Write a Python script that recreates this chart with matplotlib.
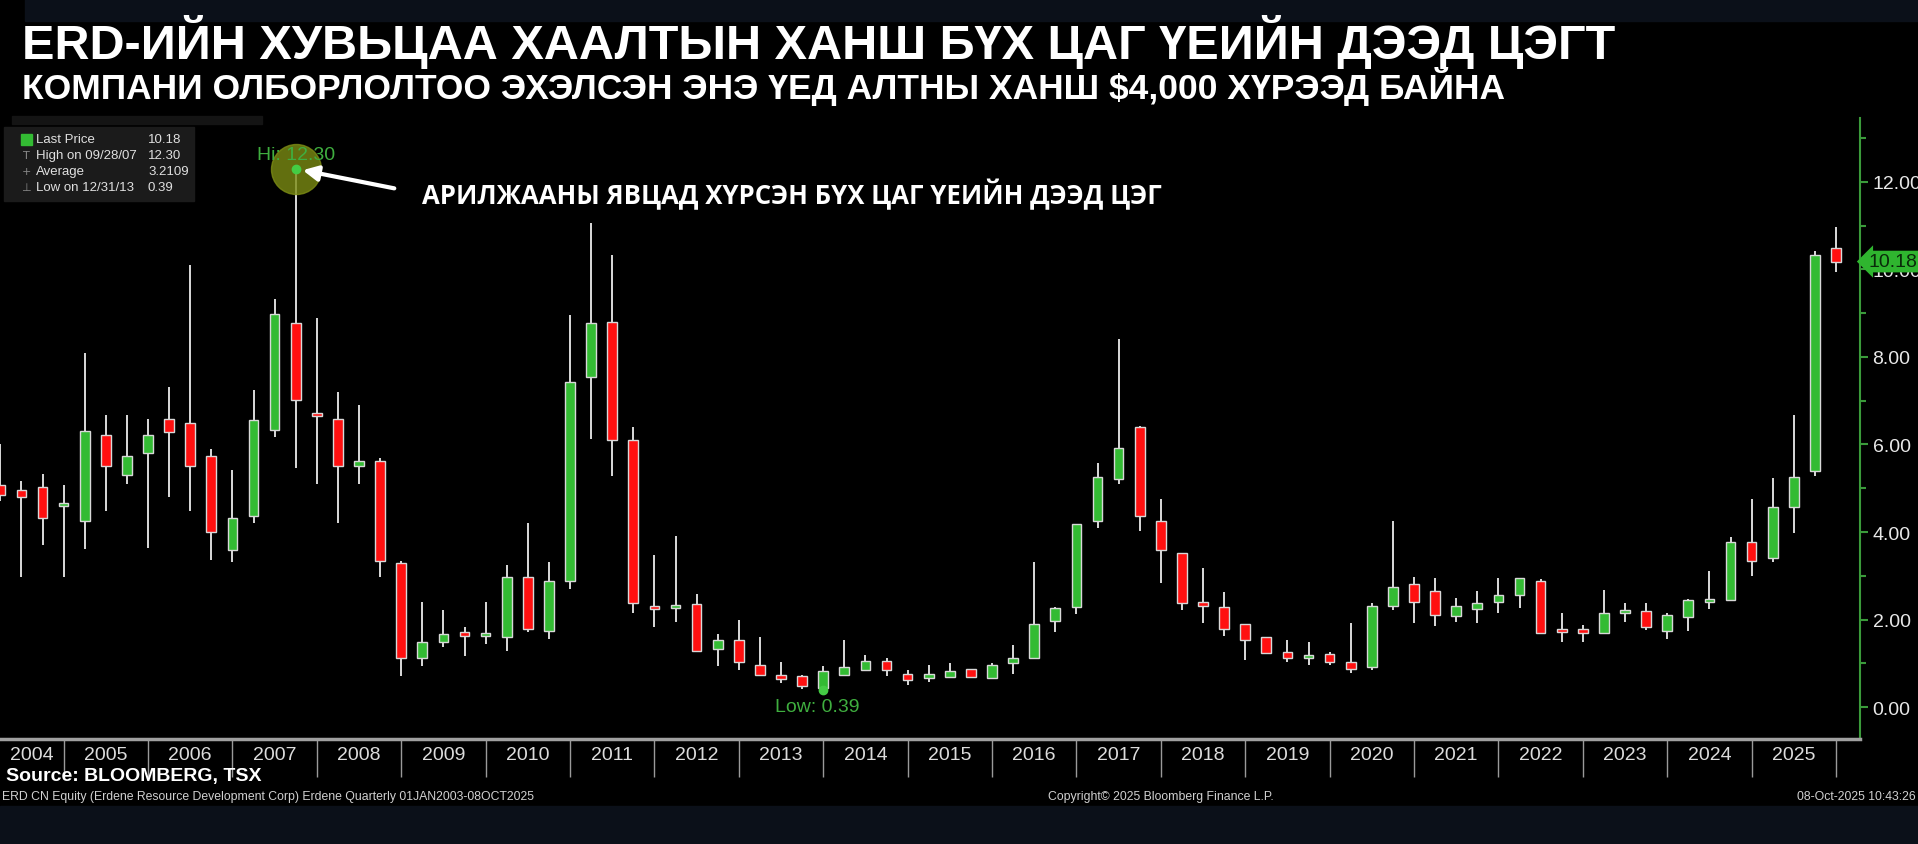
import matplotlib
matplotlib.use("Agg")
import matplotlib.pyplot as plt
from matplotlib import font_manager
from matplotlib.patches import Rectangle
import numpy as np

# Quarterly OHLC, ERD CN Equity, Q1 2004 .. Q4 2025
years = list(range(2004, 2026))
opens = [
    5.08, 4.96, 5.02, 4.60,  4.24, 6.22, 5.31, 5.80,  6.59, 6.48, 5.74, 3.59,
    4.36, 6.34, 8.77, 6.71,  6.59, 5.50, 5.62, 3.29,  1.13, 1.49, 1.72, 1.63,
    1.60, 2.97, 1.74, 2.89,  7.54, 8.80, 6.11, 2.30,  2.27, 2.36, 1.32, 1.54,
    0.96, 0.74, 0.70, 0.44,  0.73, 0.84, 1.05, 0.75,  0.67, 0.68, 0.87, 0.67,
    1.01, 1.12, 1.97, 2.28,  4.24, 5.21, 6.41, 4.26,  3.52, 2.41, 2.28, 1.89,
    1.60, 1.26, 1.12, 1.21,  1.03, 0.91, 2.30, 2.82,  2.66, 2.08, 2.24, 2.40,
    2.57, 2.89, 1.79, 1.79,  1.70, 2.16, 2.19, 1.74,  2.06, 2.41, 2.45, 3.77,
    3.41, 4.56, 5.40, 10.50,
]
highs = [
    6.02, 5.16, 5.33, 5.08,  8.10, 6.67, 6.67, 6.59,  7.32, 10.09, 5.90, 5.41,
    7.25, 9.32, 12.30, 8.88,  7.20, 6.90, 5.69, 3.34,  2.40, 2.21, 1.84, 2.40,
    3.24, 4.20, 3.31, 8.95,  11.05, 10.33, 6.41, 3.47,  3.90, 2.58, 1.68, 2.00,
    1.61, 1.03, 0.74, 0.93,  1.54, 1.19, 1.12, 0.84,  0.95, 1.01, 0.88, 1.01,
    1.42, 3.31, 2.28, 4.19,  5.57, 8.41, 6.42, 4.76,  3.53, 3.17, 2.64, 1.90,
    1.61, 1.54, 1.49, 1.26,  1.91, 2.38, 4.26, 2.98,  2.96, 2.49, 2.66, 2.96,
    2.95, 2.93, 2.14, 1.88,  2.68, 2.38, 2.37, 2.16,  2.48, 3.12, 3.89, 4.76,
    5.24, 6.68, 10.43, 10.96,
]
lows = [
    4.71, 2.98, 3.71, 2.98,  3.61, 4.48, 5.10, 3.64,  4.79, 4.48, 3.36, 3.31,
    4.20, 6.18, 5.46, 5.10,  4.20, 5.10, 2.97, 0.70,  0.93, 1.37, 1.17, 1.45,
    1.28, 1.71, 1.56, 2.69,  6.13, 5.27, 2.16, 1.82,  1.94, 1.28, 0.93, 0.84,
    0.72, 0.56, 0.42, 0.39,  0.70, 0.83, 0.70, 0.51,  0.58, 0.67, 0.67, 0.66,
    0.75, 1.11, 1.71, 2.12,  4.08, 5.10, 4.03, 2.83,  2.22, 1.91, 1.63, 1.07,
    1.23, 1.03, 0.95, 0.95,  0.77, 0.84, 2.21, 1.93,  1.85, 1.94, 1.93, 2.16,
    2.27, 1.69, 1.49, 1.49,  1.69, 1.94, 1.75, 1.55,  1.73, 2.23, 2.42, 2.99,
    3.31, 3.97, 5.28, 9.95,
]
closes = [
    4.85, 4.79, 4.31, 4.66,  6.30, 5.50, 5.74, 6.22,  6.28, 5.50, 3.99, 4.31,
    6.55, 8.98, 7.01, 6.66,  5.50, 5.62, 3.34, 1.12,  1.49, 1.68, 1.63, 1.66,
    2.98, 1.79, 2.87, 7.43,  8.77, 6.11, 2.38, 2.24,  2.29, 1.29, 1.54, 1.03,
    0.73, 0.65, 0.49, 0.82,  0.91, 1.05, 0.84, 0.62,  0.75, 0.82, 0.68, 0.95,
    1.12, 1.89, 2.27, 4.18,  5.25, 5.92, 4.36, 3.59,  2.38, 2.30, 1.79, 1.54,
    1.24, 1.12, 1.14, 1.03,  0.87, 2.30, 2.75, 2.40,  2.10, 2.31, 2.38, 2.55,
    2.94, 1.70, 1.72, 1.70,  2.14, 2.18, 1.82, 2.11,  2.45, 2.43, 3.77, 3.34,
    4.56, 5.26, 10.34, 10.18,
]
last_price = 10.18
hi_value, hi_date = 12.30, "09/28/07"
lo_value, lo_date = 0.39, "12/31/13"
average = 3.2109

title = "ERD-ИЙН ХУВЬЦАА ХААЛТЫН ХАНШ БҮХ ЦАГ ҮЕИЙН ДЭЭД ЦЭГТ"
subtitle = "КОМПАНИ ОЛБОРЛОЛТОО ЭХЭЛСЭН ЭНЭ ҮЕД АЛТНЫ ХАНШ $4,000 ХҮРЭЭД БАЙНА"
note = "АРИЛЖААНЫ ЯВЦАД ХҮРСЭН БҮХ ЦАГ ҮЕИЙН ДЭЭД ЦЭГ"

GREEN = "#33bb33"
RED = "#ff1010"
AXGREEN = "#3a9a3a"
NAVY = "#0b1019"

names = {f.name for f in font_manager.fontManager.ttflist}
narrow = "Liberation Sans Narrow" if "Liberation Sans Narrow" in names else "Liberation Sans"
plt.rcParams["font.family"] = ["Liberation Sans", "DejaVu Sans"]

# quarter-end positions (Q4 sits on the year boundary, like Bloomberg)
x = np.array([y + q / 4 for y in years for q in (1, 2, 3, 4)])
o = np.array(opens); h = np.array(highs); l = np.array(lows); c = np.array(closes)

W, H = 1918, 845
fig = plt.figure(figsize=(W / 100, H / 100), dpi=100, facecolor="black")
fx = lambda px: px / W
fy = lambda py: 1 - py / H

ax = fig.add_axes([0, fy(740), fx(1860), (740 - 119) / H])
ax.set_facecolor("black")

up = c >= o
ax.vlines(x, l, h, color="white", lw=1.2, zorder=2)
ax.bar(x, np.maximum(np.abs(c - o), 0.06), width=0.115, bottom=np.minimum(o, c),
       color=np.where(up, GREEN, RED), edgecolor="#d8d8d8", linewidth=1.0, zorder=3)

ax.set_xlim(2004.246, 2026.284)
ax.set_ylim(-0.73, 13.46)

# y axis on the right
ax.yaxis.tick_right()
ax.set_yticks(np.arange(0, 13, 2))
ax.set_yticklabels([f"{v:.2f}" for v in np.arange(0, 13, 2)], fontsize=14)
ax.set_yticks(np.arange(1, 14, 2), minor=True)
ax.tick_params(axis="y", which="both", colors=AXGREEN, labelcolor="#e8e8e8",
               direction="out", length=6, width=1.5, pad=3)
ax.tick_params(axis="y", which="minor", length=4)

# x axis: year separators + year labels
ax.set_xticks(np.arange(2005, 2027))
ax.set_xticklabels([])
centers = [y + 0.5 for y in years]
centers[0] = 2004.62
ax.set_xticks(centers, minor=True)
ax.set_xticklabels([str(y) for y in years], minor=True, fontsize=14,
                   family=narrow, color="#dcdcdc")
ax.tick_params(axis="x", which="major", colors="#9a9a9a", length=27, width=1,
               direction="out")
ax.tick_params(axis="x", which="minor", length=0, pad=5)

for s in ("left", "top"):
    ax.spines[s].set_visible(False)
ax.spines["right"].set_color(AXGREEN)
ax.spines["right"].set_linewidth(1.5)
ax.spines["bottom"].set_color("#a0a0a0")
ax.spines["bottom"].set_linewidth(2.5)

# last price tag
ax.annotate(f"{last_price:.2f}", xy=(1.0, last_price), xycoords=("axes fraction", "data"),
            xytext=(6, 0), textcoords="offset points", ha="left", va="center",
            fontsize=14, color="#0a2a0a",
            bbox=dict(boxstyle="larrow,pad=0.12", fc="#2fb52f", ec="none"),
            annotation_clip=False, zorder=6)

# all-time high marker
hi_x = x[int(np.argmax(h))]
ax.plot(hi_x, hi_value, "o", ms=36, color="#7c8c14", alpha=0.8, zorder=4)
ax.plot(hi_x, hi_value, "o", ms=6, color="#44cc44", zorder=5)
ax.annotate(f"Hi: {hi_value:.2f}", xy=(hi_x, hi_value), xytext=(0, 10),
            textcoords="offset points", ha="center", va="center", fontsize=14,
            color="#3fae3f", zorder=6)
ax.annotate("", xy=(hi_x + 0.05, hi_value - 0.02), xytext=(2008.95, 11.84),
            arrowprops=dict(arrowstyle="-|>,head_length=0.9,head_width=0.45",
                            color="white", lw=3), zorder=6)
ax.text(2009.25, 11.73, note, color="white", fontsize=18.5, fontweight="bold",
        family=["Open Sans", "DejaVu Sans"], ha="left", va="center", zorder=6)

# all-time low marker
lo_x = x[int(np.argmin(l))]
ax.plot(lo_x, lo_value, "o", ms=6, color="#44cc44", zorder=5)
ax.annotate(f"Low: {lo_value:.2f}", xy=(lo_x, lo_value), xytext=(-4, -6),
            textcoords="offset points", ha="center", va="top", fontsize=14,
            color="#3fae3f", zorder=6)

# header / footer bands
fig.patches.append(Rectangle((fx(25), fy(22)), 1, 22 / H, transform=fig.transFigure,
                             color=NAVY, zorder=0))
fig.patches.append(Rectangle((0, 0), 1, fy(807), transform=fig.transFigure,
                             color=NAVY, zorder=0))

fig.text(fx(22), fy(42), title, color="white", fontsize=35, fontweight="bold",
         ha="left", va="center")
fig.text(fx(22), fy(86), subtitle, color="white", fontsize=25.5, fontweight="bold",
         ha="left", va="center")

# legend box
fig.patches.append(Rectangle((fx(12), fy(125)), fx(250), 8 / H, transform=fig.transFigure,
                             color="#141414", zorder=1))
fig.patches.append(Rectangle((fx(4), fy(202)), fx(190), 74 / H, transform=fig.transFigure,
                             color="#1b1b1b", zorder=1))
rows = [("Last Price", f"{last_price:.2f}"),
        (f"High on {hi_date}", f"{hi_value:.2f}"),
        ("Average", f"{average:.4f}"),
        (f"Low on {lo_date}", f"{lo_value:.2f}")]
for i, (lab, val) in enumerate(rows):
    yy = fy(140 + 16 * i)
    fig.text(fx(36), yy, lab, color="#e0e0e0", fontsize=9.5, va="center")
    fig.text(fx(148), yy, val, color="#e0e0e0", fontsize=9.5, va="center")
fig.patches.append(Rectangle((fx(21), fy(146)), fx(11), 11 / H, transform=fig.transFigure,
                             color=GREEN, zorder=2))
for i, sym in enumerate(["T", "+", "⊥"]):
    fig.text(fx(26), fy(156 + 16 * i), sym, color="#8a8a8a", fontsize=8,
             family="DejaVu Sans", ha="center", va="center")

fig.text(fx(6), fy(777), "Source: BLOOMBERG, TSX", color="white", fontsize=14,
         fontweight="bold", family=narrow, va="center")
fig.text(fx(2), fy(797), "ERD CN Equity (Erdene Resource Development Corp) Erdene Quarterly 01JAN2003-08OCT2025",
         color="#d0d0d0", fontsize=8.8, family=narrow, va="center")
fig.text(fx(1048), fy(797), "Copyright© 2025 Bloomberg Finance L.P.", color="#d0d0d0",
         fontsize=8.8, family=narrow, va="center")
fig.text(fx(1916), fy(797), "08-Oct-2025 10:43:26", color="#d0d0d0", fontsize=8.8,
         family=narrow, va="center", ha="right")

fig.savefig("out.png", dpi=100, facecolor="black")
